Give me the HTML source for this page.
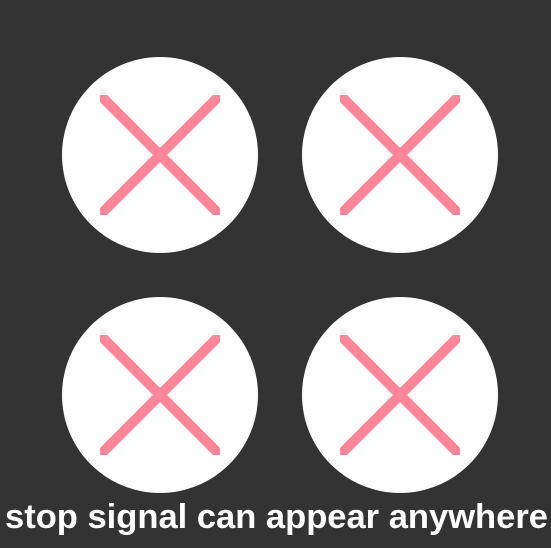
<!DOCTYPE html>
<html><head><meta charset="utf-8"><style>
html,body{margin:0;padding:0;background:#333333;width:551px;height:548px;overflow:hidden}
</style></head><body>
<svg width="551" height="548" xmlns="http://www.w3.org/2000/svg">
<defs>
<clipPath id="c1"><rect x="100" y="95" width="120" height="120"/></clipPath>
<clipPath id="c2"><rect x="340" y="95" width="120" height="120"/></clipPath>
<clipPath id="c3"><rect x="100" y="335" width="120" height="120"/></clipPath>
<clipPath id="c4"><rect x="340" y="335" width="120" height="120"/></clipPath>
</defs>
<rect width="551" height="548" fill="#333333"/>
<g>
<circle cx="160" cy="155" r="98" fill="#ffffff"/>
<path clip-path="url(#c1)" d="M90 85 L230 225 M230 85 L90 225" stroke="#ff8599" stroke-width="10"/>
</g>
<g>
<circle cx="400" cy="155" r="98" fill="#ffffff"/>
<path clip-path="url(#c2)" d="M330 85 L470 225 M470 85 L330 225" stroke="#ff8599" stroke-width="10"/>
</g>
<g>
<circle cx="160" cy="395" r="98" fill="#ffffff"/>
<path clip-path="url(#c3)" d="M90 325 L230 465 M230 325 L90 465" stroke="#ff8599" stroke-width="10"/>
</g>
<g>
<circle cx="400" cy="395" r="98" fill="#ffffff"/>
<path clip-path="url(#c4)" d="M330 325 L470 465 M470 325 L330 465" stroke="#ff8599" stroke-width="10"/>
</g>
<text x="5" y="528" textLength="543" lengthAdjust="spacingAndGlyphs" fill="#ffffff" font-family="Liberation Sans, sans-serif" font-weight="bold" font-size="34">stop signal can appear anywhere</text>
</svg>
</body></html>
